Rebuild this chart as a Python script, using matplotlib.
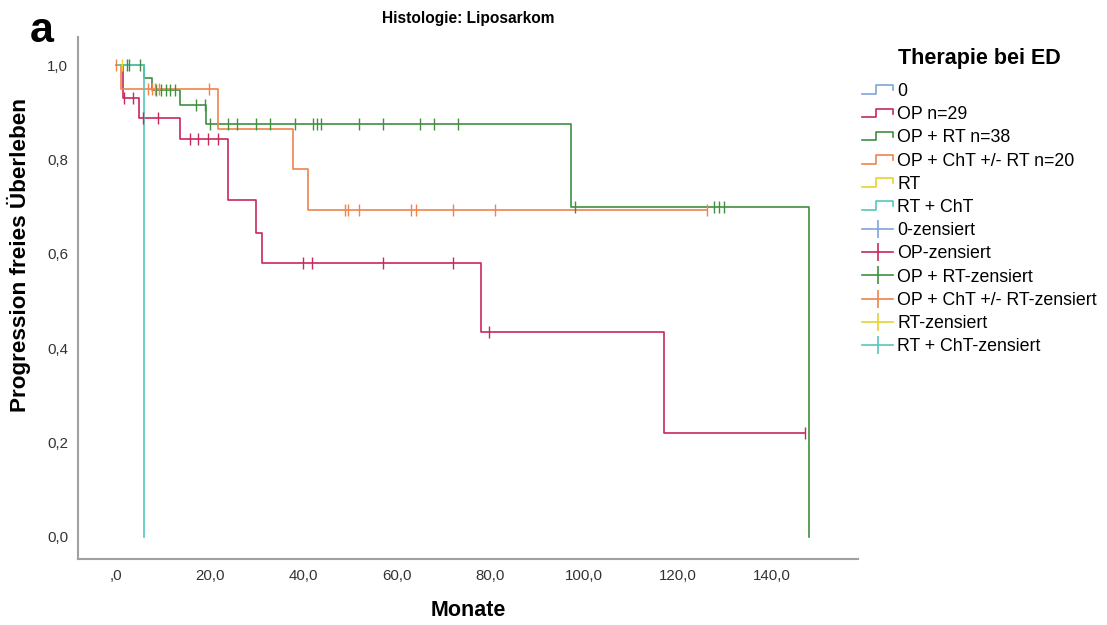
import numpy as np
import matplotlib
matplotlib.use("Agg")
import matplotlib.pyplot as plt
from matplotlib.lines import Line2D
from matplotlib.legend_handler import HandlerBase

plt.rcParams['font.family'] = ['Liberation Sans', 'DejaVu Sans']

# Kaplan-Meier steps per therapy group (months, survival level after each time)
op_times = [0, 1.5, 5.0, 13.7, 24.0, 29.9, 31.2, 78.0, 117.1]
op_surv = [1.0, 0.931, 0.889, 0.843, 0.714, 0.645, 0.580, 0.435, 0.220]
op_end = 147.2
op_cens = [1.8, 3.7, 5.8, 9.0, 15.8, 17.6, 19.7, 21.9, 40.0, 41.8, 57.1, 72.1, 79.7, 147.2]

oprt_times = [0, 6.0, 7.8, 13.7, 19.2, 97.2, 148.0]
oprt_surv = [1.0, 0.974, 0.947, 0.915, 0.875, 0.700, 0.0]
oprt_end = 148.0
oprt_cens = [2.3, 2.8, 5.1, 8.6, 9.6, 10.6, 11.6, 12.6, 17.0, 19.0, 20.0, 24.0, 25.9,
             30.0, 32.9, 38.2, 42.0, 42.9, 43.8, 52.0, 57.0, 65.0, 68.0, 73.0,
             98.0, 127.8, 128.8, 129.9]

opcht_times = [0, 1.0, 21.8, 37.8, 41.0]
opcht_surv = [1.0, 0.950, 0.865, 0.780, 0.693]
opcht_end = 126.3
opcht_cens = [0.0, 6.8, 7.6, 8.3, 9.2, 19.9, 49.0, 49.6, 52.0, 63.0, 64.0, 72.0, 81.0, 126.3]

rt_times = [0]
rt_surv = [1.0]
rt_end = 1.2
rt_cens = [1.2]

rtcht_times = [0, 6.0]
rtcht_surv = [1.0, 0.0]
rtcht_end = 6.0
rtcht_cens = []

groups = ["0", "OP n=29", "OP + RT n=38", "OP + ChT +/- RT n=20", "RT", "RT + ChT"]
cens_labels = ["0-zensiert", "OP-zensiert", "OP + RT-zensiert",
               "OP + ChT +/- RT-zensiert", "RT-zensiert", "RT + ChT-zensiert"]
colors = ["#7ea6dc", "#c8285c", "#3f8f3f", "#f0844a", "#e8d230", "#55c8bc"]

curves = [
    None,
    (op_times, op_surv, op_end, op_cens),
    (oprt_times, oprt_surv, oprt_end, oprt_cens),
    (opcht_times, opcht_surv, opcht_end, opcht_cens),
    (rt_times, rt_surv, rt_end, rt_cens),
    (rtcht_times, rtcht_surv, rtcht_end, rtcht_cens),
]


def surv_at(times, surv, t):
    i = np.searchsorted(times, t, side='right') - 1
    return np.asarray(surv)[np.clip(i, 0, len(surv) - 1)]


fig = plt.figure(figsize=(11.07, 6.25), dpi=100)
ax = fig.add_axes([78 / 1107, 1 - 559 / 625, (858 - 78) / 1107, (559 - 37) / 625])

for c, col in zip(curves, colors):
    if c is None:
        continue
    times, surv, end, cens = c
    xs = list(times)
    ys = list(surv)
    if end > xs[-1]:
        xs.append(end)
        ys.append(ys[-1])
    ax.step(xs, ys, where='post', color=col, lw=1.2, zorder=2)
    if cens:
        ax.plot(cens, surv_at(times, surv, np.array(cens)), ls='none', marker='|',
                ms=8.5, mew=1.0, color=col, zorder=3)

ax.set_xlim(-8.1, 158.5)
ax.set_ylim(-0.047, 1.06)
ax.set_xticks(np.arange(0, 141, 20))
ax.set_xticklabels([",0"] + [f"{v},0" for v in range(20, 141, 20)])
ax.set_yticks(np.arange(0, 1.01, 0.2))
ax.set_yticklabels([f"{v:.1f}".replace(".", ",") for v in np.arange(0, 1.01, 0.2)])
ax.tick_params(length=0, labelsize=10.8, labelcolor="#333333", pad=7)
for s in ["top", "right"]:
    ax.spines[s].set_visible(False)
for s in ["left", "bottom"]:
    ax.spines[s].set_color("#a0a0a0")
    ax.spines[s].set_linewidth(1.5)

fig.text(468 / 1107, 1 - 18 / 625, "Histologie: Liposarkom", ha='center', va='center',
         fontsize=11.2, fontweight='bold')
fig.text(42 / 1107, 1 - 31 / 625, "a", ha='center', va='center', fontsize=31, fontweight='bold')
fig.text(19 / 1107, 1 - 255 / 625, "Progression freies Überleben", rotation=90,
         ha='center', va='center', fontsize=16.2, fontweight='bold')
fig.text(468 / 1107, 1 - 611 / 625, "Monate", ha='center', va='center',
         fontsize=15.5, fontweight='bold')


class StepHandler(HandlerBase):
    def create_artists(self, legend, orig_handle, xdescent, ydescent, width, height,
                       fontsize, trans):
        w, h = width, height
        x = np.array([0, 0.45, 0.45, 1.0, 1.0]) * w - xdescent
        y = np.array([0.15, 0.15, 0.85, 0.85, 0.45]) * h - ydescent
        line = Line2D(x, y, color=orig_handle.get_color(), lw=1.2, transform=trans)
        return [line]


step_handles = [Line2D([], [], color=col) for col in colors]
cens_handles = [Line2D([], [], color=col, lw=1.2, marker='|', ms=13, mew=1.2) for col in colors]
handler_map = {h: StepHandler() for h in step_handles}

leg = fig.legend(step_handles + cens_handles, groups + cens_labels, handler_map=handler_map,
                 loc='upper left', bbox_to_anchor=(862 / 1107, 1 - 48 / 625),
                 frameon=False, fontsize=12.8, title="Therapie bei ED",
                 title_fontproperties={'weight': 'bold', 'size': 15.5},
                 handlelength=1.75, handletextpad=0.22, labelspacing=0.35, borderaxespad=0,
                 borderpad=0)
# extra room between legend title and entries
leg._legend_box.sep = 10

fig.savefig("out.png", dpi=100)
